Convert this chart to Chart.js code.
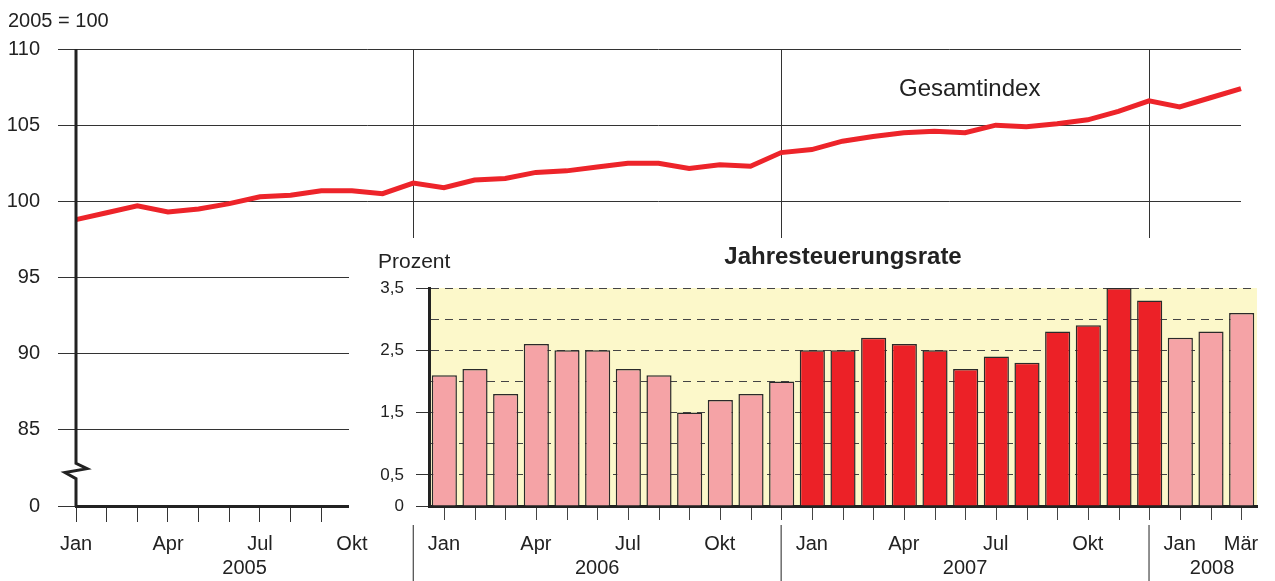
<!DOCTYPE html>
<html>
<head>
<meta charset="utf-8">
<script src="https://cdn.jsdelivr.net/npm/chart.js@4"></script>
<style>
  body { margin: 0; background: #fff; }
  #wrap { position: relative; width: 1275px; height: 581px; }
  #main { position: absolute; left: 0; top: 0; }
  #inset { position: absolute; left: 349px; top: 238px; }
</style>
</head>
<body>
<div id="wrap">
  <canvas id="main" width="1275" height="581"></canvas>
  <canvas id="inset" width="926" height="282"></canvas>
</div>
<script>
const years = ['2005', '2006', '2007', '2008'];
const monthNames = ['Jan', 'Feb', 'Mär', 'Apr', 'Mai', 'Jun', 'Jul', 'Aug', 'Sep', 'Okt', 'Nov', 'Dez'];
const shownMonths = ['Jan', 'Apr', 'Jul', 'Okt'];

// Gesamtindex (2005 = 100), Jan 2005 .. Mär 2008
const gesamtindex = [
  98.8, 99.25, 99.7, 99.3, 99.5, 99.85, 100.3, 100.4, 100.7, 100.7, 100.5, 101.2,
  100.9, 101.4, 101.5, 101.9, 102.0, 102.25, 102.5, 102.5, 102.15, 102.4, 102.3, 103.2,
  103.4, 103.95, 104.25, 104.5, 104.6, 104.5, 105.0, 104.9, 105.1, 105.35, 105.9, 106.6,
  106.2, 106.8, 107.4
];

// Jahresteuerungsrate in Prozent, Jan 2006 .. Mär 2008
const teuerung = [
  2.1, 2.2, 1.8, 2.6, 2.5, 2.5, 2.2, 2.1, 1.5, 1.7, 1.8, 2.0,
  2.5, 2.5, 2.7, 2.6, 2.5, 2.2, 2.4, 2.3, 2.8, 2.9, 3.5, 3.3,
  2.7, 2.8, 3.1
];
const rateTickLabels = [0, 0.5, 1.5, 2.5, 3.5];
const hiYear = '2007';

const allMonths = [];
years.forEach(y => monthNames.forEach(m => allMonths.push(m + ' ' + y)));
const indexLabels = allMonths.slice(0, gesamtindex.length);
const rateLabels = indexLabels.slice(indexLabels.length - teuerung.length);

const FONT = '"Liberation Sans", Arial, sans-serif';
Chart.defaults.font.family = FONT;
Chart.defaults.color = '#222';

const isDec = i => indexLabels[i] && indexLabels[i].startsWith('Dez');

// axis with break, texts, year labels
const mainDecor = {
  id: 'mainDecor',
  afterDraw(chart) {
    const { ctx, chartArea: a, scales: { x, y } } = chart;
    ctx.save();
    ctx.strokeStyle = '#222';
    ctx.lineWidth = 3;
    ctx.lineJoin = 'miter';
    const ax = a.left;
    ctx.beginPath();
    ctx.moveTo(ax, a.top);
    ctx.lineTo(ax, y.getPixelForValue(82.8));
    ctx.lineTo(ax + 11, y.getPixelForValue(82.45));
    ctx.lineTo(ax - 11, y.getPixelForValue(82.2));
    ctx.lineTo(ax, y.getPixelForValue(81.8));
    ctx.lineTo(ax, a.bottom + 1);
    ctx.stroke();

    ctx.fillStyle = '#222';
    ctx.font = '20px ' + FONT;
    ctx.textAlign = 'left';
    ctx.textBaseline = 'alphabetic';
    ctx.fillText('2005 = 100', 8, 27);

    ctx.font = '24px ' + FONT;
    ctx.textAlign = 'center';
    ctx.fillText('Gesamtindex', x.getPixelForValue(29.15), y.getPixelForValue(106.9));

    // year separators and labels
    const decs = [];
    indexLabels.forEach((l, i) => { if (isDec(i)) decs.push(x.getPixelForValue(i)); });
    ctx.strokeStyle = '#222';
    ctx.lineWidth = 1;
    decs.forEach(px => {
      ctx.beginPath();
      ctx.moveTo(px, 525);
      ctx.lineTo(px, chart.height);
      ctx.stroke();
    });
    const bounds = [x.getPixelForValue(0)].concat(decs, [chart.width]);
    ctx.font = '20px ' + FONT;
    years.forEach((yr, k) => {
      ctx.fillText(yr, (bounds[k] + bounds[k + 1]) / 2, 574);
    });
    ctx.restore();
  }
};

new Chart(document.getElementById('main'), {
  type: 'line',
  data: {
    labels: indexLabels,
    datasets: [{
      data: gesamtindex,
      borderColor: '#ED242A',
      borderWidth: 5,
      pointRadius: 0,
      tension: 0
    }]
  },
  options: {
    responsive: false,
    animation: false,
    layout: { padding: { top: 49, right: 34, left: 0, bottom: 0 } },
    plugins: { legend: { display: false }, tooltip: { enabled: false } },
    scales: {
      x: {
        offset: false,
        grid: {
          color: c => isDec(c.index) ? '#333' : 'transparent',
          tickColor: c => c.index < 9 ? '#333' : 'transparent',
          tickLength: 16
        },
        border: { color: '#222', width: 3 },
        ticks: {
          autoSkip: false,
          maxRotation: 0,
          padding: 10,
          font: { size: 20 },
          callback: (v, i) => {
            const m = indexLabels[i].split(' ')[0];
            return (shownMonths.includes(m) || i === indexLabels.length - 1) ? m : '';
          }
        },
        afterFit: s => { s.height = 75; s.paddingLeft = 0; s.paddingRight = 0; }
      },
      y: {
        min: 80,
        max: 110,
        ticks: { stepSize: 5, padding: 18, font: { size: 20 }, callback: v => v === 80 ? '0' : v },
        grid: { color: '#333', tickLength: 18 },
        border: { display: false },
        afterFit: s => { s.width = 76; s.paddingTop = 0; s.paddingBottom = 0; }
      }
    }
  },
  plugins: [mainDecor]
});

const insetDecor = {
  id: 'insetDecor',
  beforeDraw(chart) {
    const { ctx, chartArea: a } = chart;
    ctx.save();
    ctx.fillStyle = '#fff';
    ctx.fillRect(0, 0, chart.width, chart.height);
    ctx.fillStyle = '#FCF8CA';
    ctx.fillRect(a.left, a.top, a.right - a.left, a.bottom - a.top);
    ctx.restore();
  },
  afterDraw(chart) {
    const { ctx, chartArea: a } = chart;
    ctx.save();
    ctx.fillStyle = '#222';
    ctx.textBaseline = 'alphabetic';
    ctx.textAlign = 'left';
    ctx.font = '21px ' + FONT;
    ctx.fillText('Prozent', 29, 30);
    ctx.textAlign = 'center';
    ctx.font = 'bold 24px ' + FONT;
    ctx.fillText('Jahresteuerungsrate', (a.left + a.right) / 2, 26);
    ctx.restore();
  }
};

new Chart(document.getElementById('inset'), {
  type: 'bar',
  data: {
    labels: rateLabels,
    datasets: [{
      data: teuerung,
      backgroundColor: rateLabels.map(l => l.endsWith(hiYear) ? '#EC2127' : '#F5A3A6'),
      borderColor: '#2a2a2a',
      borderWidth: 1.5,
      barPercentage: 0.82,
      categoryPercentage: 1
    }]
  },
  options: {
    responsive: false,
    animation: false,
    layout: { padding: { top: 50, right: 18, left: 0, bottom: 0 } },
    plugins: { legend: { display: false }, tooltip: { enabled: false } },
    scales: {
      x: {
        grid: { offset: false, drawOnChartArea: false, tickLength: 14, tickColor: '#444' },
        border: { color: '#222', width: 3 },
        ticks: { display: false },
        afterFit: s => { s.height = 14; s.paddingLeft = 0; s.paddingRight = 0; }
      },
      y: {
        min: 0,
        max: 3.5,
        ticks: {
          stepSize: 0.5,
          padding: 12,
          font: { size: 17 },
          callback: v => rateTickLabels.includes(v) ? String(v).replace('.', ',') : ''
        },
        grid: {
          color: '#444',
          tickLength: 13,
          tickColor: c => (c.tick && rateTickLabels.includes(c.tick.value)) ? '#333' : 'transparent'
        },
        border: { color: '#222', width: 3, dash: [8, 6] },
        afterFit: s => { s.width = 80; s.paddingTop = 0; s.paddingBottom = 0; }
      }
    }
  },
  plugins: [insetDecor]
});
</script>
</body>
</html>
